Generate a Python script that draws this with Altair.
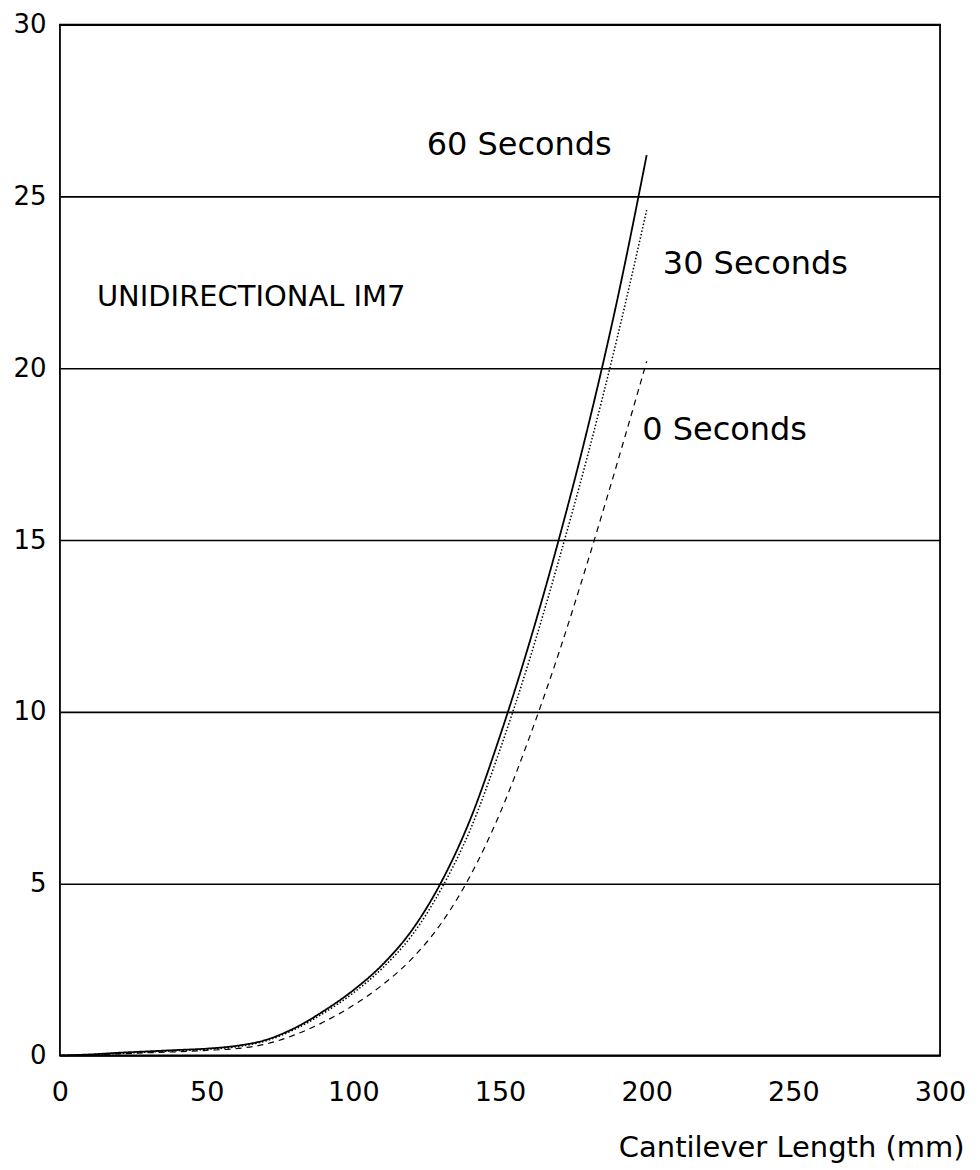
import altair as alt
import pandas as pd

length_mm = [0, 10, 20, 30, 40, 50, 60, 70, 80, 90, 100, 110, 120, 130, 140, 150, 160, 170, 180, 190, 200]
s60 = [0, 0.03, 0.08, 0.12, 0.16, 0.2, 0.28, 0.45, 0.8, 1.3, 1.9, 2.65, 3.65, 5.05, 6.9, 9.3, 12.0, 15.0, 18.3, 22.0, 26.2]
s30 = [0, 0.02, 0.06, 0.1, 0.14, 0.18, 0.25, 0.42, 0.76, 1.24, 1.82, 2.55, 3.5, 4.85, 6.6, 8.9, 11.5, 14.4, 17.5, 20.9, 24.6]
s0 = [0, 0.02, 0.05, 0.08, 0.11, 0.15, 0.2, 0.33, 0.6, 0.98, 1.46, 2.06, 2.82, 3.85, 5.25, 7.05, 9.25, 11.7, 14.4, 17.25, 20.2]

series_names = ["60 Seconds", "30 Seconds", "0 Seconds"]
series_values = [s60, s30, s0]

label_text = ["60 Seconds", "30 Seconds", "0 Seconds", "UNIDIRECTIONAL IM7"]
label_x = [125, 205.5, 198.5, 12.6]
label_y = [26.2, 22.75, 17.9, 21.8]
label_size = [32, 32, 32, 29]

rows = []
for name, vals in zip(series_names, series_values):
    for x, y in zip(length_mm, vals):
        rows.append({"x": x, "y": y, "series": name})
df = pd.DataFrame(rows)

labels = pd.DataFrame({"text": label_text, "x": label_x, "y": label_y, "size": label_size})

FONT = "DejaVu Sans"

xscale = alt.Scale(domain=[0, 300], nice=False, zero=False)
yscale = alt.Scale(domain=[0, 30], nice=False, zero=False)

lines = alt.Chart(df).mark_line(color="black", interpolate="monotone").encode(
    x=alt.X("x:Q", scale=xscale,
            axis=alt.Axis(values=[0, 50, 100, 150, 200, 250, 300], grid=False, ticks=False, tickSize=0,
                          domain=False, labelFont=FONT, labelFontSize=27, labelColor="black",
                          labelFlush=False, labelPadding=24, title="Cantilever Length (mm)",
                          titleFont=FONT, titleFontSize=29, titleFontWeight="normal",
                          titleColor="black", titleAlign="right", titleAnchor="end",
                          titleX=905, titleY=101, titleBaseline="alphabetic")),
    y=alt.Y("y:Q", scale=yscale,
            axis=alt.Axis(values=[0, 5, 10, 15, 20, 25, 30], grid=True, gridColor="black",
                          gridWidth=1.6, gridOpacity=1, ticks=False, tickSize=0, domain=False,
                          labelFont=FONT, labelFontSize=26, labelColor="black", labelPadding=14,
                          labelFlush=False, title=None)),
    strokeDash=alt.StrokeDash("series:N",
                              scale=alt.Scale(domain=series_names, range=[[1, 0], [1.5, 2], [6, 5]]),
                              legend=None),
    strokeWidth=alt.StrokeWidth("series:N",
                                scale=alt.Scale(domain=series_names, range=[1.8, 1.2, 1.8]),
                                legend=None),
    detail="series:N",
)

texts = alt.Chart(labels).mark_text(font=FONT, color="black", align="left",
                                    baseline="alphabetic").encode(
    x=alt.X("x:Q", scale=xscale),
    y=alt.Y("y:Q", scale=yscale),
    size=alt.Size("size:Q", scale=None, legend=None),
    text="text:N",
)

chart = alt.layer(lines, texts).properties(
    width=881, height=1032,
    padding={"left": 52, "top": 16, "right": 32, "bottom": 110},
    autosize=alt.AutoSizeParams(type="none"),
    background="white",
).configure_view(stroke="black", strokeWidth=1.8)

chart.save("out.html", embed_options={"renderer": "svg", "actions": False})
